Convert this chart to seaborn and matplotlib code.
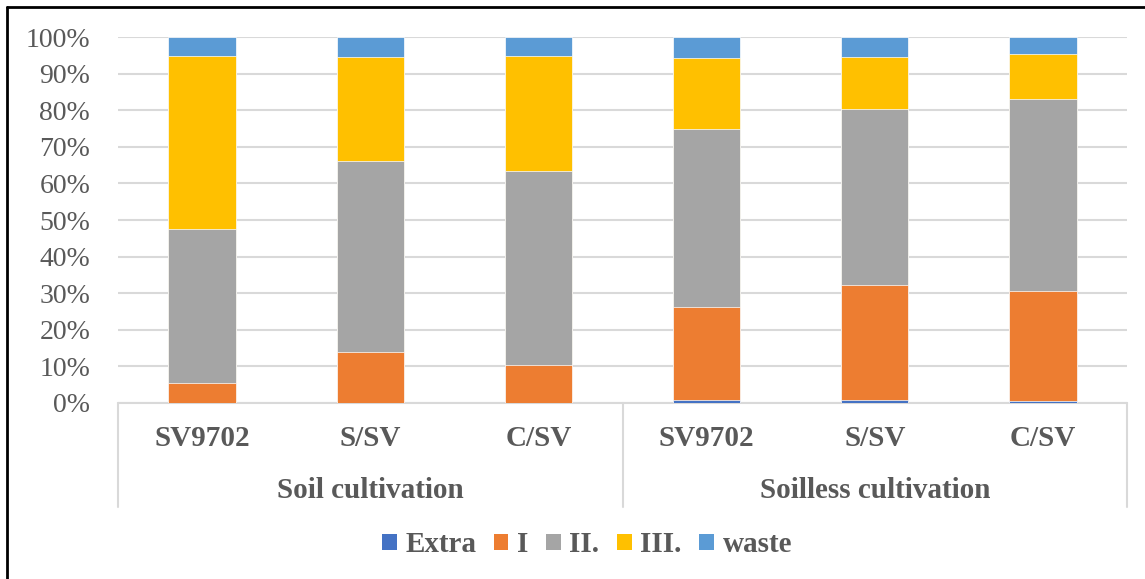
import matplotlib
matplotlib.use("Agg")
import matplotlib.pyplot as plt
from matplotlib.lines import Line2D
from matplotlib.patches import Patch
import matplotlib.transforms as mtransforms
import numpy as np
import pandas as pd
import seaborn as sns

# Share of fruit in each quality class (%)
groups = ["Soil cultivation", "Soilless cultivation"]
varieties = ["SV9702", "S/SV", "C/SV"]
stages = ["Extra", "I", "II.", "III.", "waste"]

extra = [0.0, 0.0, 0.0, 0.8, 0.8, 0.5]
class_i = [5.3, 13.8, 10.2, 25.5, 31.3, 30.2]
class_ii = [42.2, 52.4, 53.1, 48.7, 48.4, 52.5]
class_iii = [47.5, 28.5, 31.6, 19.3, 14.1, 12.3]
waste = [5.0, 5.3, 5.1, 5.7, 5.4, 4.5]

colors = ["#4472C4", "#ED7D31", "#A5A5A5", "#FFC000", "#5B9BD5"]
text_color = "#595959"
grid_color = "#D9D9D9"

keys = [f"{g}|{v}" for g in groups for v in varieties]
values = np.array([extra, class_i, class_ii, class_iii, waste])
cum = np.cumsum(values, axis=0)

rows = []
for si, stage in enumerate(stages):
    for ki, key in enumerate(keys):
        rows.append({"key": key, "stage": stage, "cum": cum[si, ki]})
df = pd.DataFrame(rows)

sns.set_theme(style="white")
plt.rcParams["font.family"] = ["Liberation Serif", "DejaVu Serif"]

W, H = 1145, 579
fig = plt.figure(figsize=(W / 100, H / 100), dpi=100)
ax = fig.add_axes([118 / W, 1 - 402.7 / H, (1127 - 118) / W, (402.7 - 37.3) / H])

# Stacked bars: draw cumulative totals from the top class down
for si in range(len(stages) - 1, -1, -1):
    sub = df[df["stage"] == stages[si]]
    sns.barplot(data=sub, x="key", y="cum", order=keys, color=colors[si],
                width=0.4, saturation=1, edgecolor="white", linewidth=0.5,
                ax=ax, zorder=3)

ax.set_xlim(-0.5, len(keys) - 0.5)
ax.set_ylim(0, 100)
ax.set_yticks(np.arange(0, 101, 10))
ax.set_yticklabels([f"{t}%" for t in range(0, 101, 10)])
ax.tick_params(axis="y", length=0, pad=20, labelsize=20, labelcolor=text_color)
ax.set_xticks([])
ax.set_xlabel("")
ax.set_ylabel("")
ax.yaxis.grid(True, color=grid_color, linewidth=1.5, zorder=0)
ax.set_axisbelow(True)
for s in ax.spines.values():
    s.set_visible(False)

# Two-level category table under the plot
trans = mtransforms.blended_transform_factory(ax.transData, ax.transAxes)
table_bottom = -0.285
ax.plot([-0.5, len(keys) - 0.5], [0, 0], transform=trans, color=grid_color,
        lw=1.5, clip_on=False)
for xd in [-0.5, 2.5, 5.5]:
    ax.plot([xd, xd], [0, table_bottom], transform=trans, color=grid_color,
            lw=1.5, clip_on=False)
for ki, key in enumerate(keys):
    ax.text(ki, -0.097, key.split("|")[1], transform=trans, ha="center",
            va="center", fontsize=21, fontweight="bold", color=text_color)
for gi, g in enumerate(groups):
    ax.text(gi * 3 + 1, -0.239, g, transform=trans, ha="center", va="center",
            fontsize=21, fontweight="bold", color=text_color)

# Legend
handles = [Patch(facecolor=c, edgecolor="none") for c in colors]
leg = fig.legend(handles, stages, loc="center", bbox_to_anchor=(587 / W, 1 - 545 / H),
                 ncol=5, frameon=False, handlelength=0.5, handleheight=0.5,
                 handletextpad=0.3, columnspacing=0.6,
                 prop={"family": "Liberation Serif", "weight": "bold", "size": 21})
for t in leg.get_texts():
    t.set_color(text_color)

# Chart frame
fig.add_artist(Line2D([7 / W, 7 / W], [0, 1 - 7 / H], color="black", lw=2,
                      transform=fig.transFigure))
fig.add_artist(Line2D([7 / W, 1], [1 - 7 / H, 1 - 7 / H], color="black", lw=2,
                      transform=fig.transFigure))

fig.savefig("out.png", dpi=100, facecolor="white")
